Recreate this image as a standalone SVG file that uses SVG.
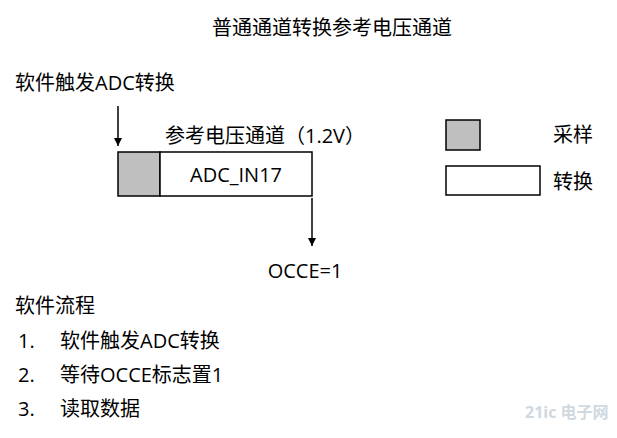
<svg xmlns="http://www.w3.org/2000/svg" width="617" height="438" viewBox="0 0 617 438">
<style>
text{font-family:"Open Sans","Noto Sans CJK SC",sans-serif;fill:#000;font-size:20px}
.b{stroke:#000;stroke-width:1.5}
</style>
<defs><marker id="a" markerWidth="10" markerHeight="10" refX="9" refY="5" orient="auto" markerUnits="userSpaceOnUse"><path d="M1,1 L9,5 L1,9 z" fill="#000"/></marker></defs>
<rect width="617" height="438" fill="#fff"/>
<text x="332" y="35" text-anchor="middle">普通通道转换参考电压通道</text>
<g id="trigger"><text x="15" y="90">软件触发ADC转换</text></g>
<g id="channel">
<text x="165" y="143">参考电压通道（1.2V）</text>
<rect class="b" x="118" y="152" width="42" height="44" fill="#bfbfbf"/>
<rect class="b" x="160" y="152" width="152" height="44" fill="#fff"/>
<text x="236" y="182" text-anchor="middle">ADC_IN17</text>
</g>
<g id="occe"><text x="305" y="278" text-anchor="middle">OCCE=1</text></g>
<g id="legend">
<rect class="b" x="446" y="120" width="34" height="30" fill="#bfbfbf"/>
<text x="553" y="142">采样</text>
<rect class="b" x="446" y="166" width="94" height="29" fill="#fff"/>
<text x="553" y="189">转换</text>
</g>
<g id="connectors" stroke="#000" stroke-width="1.5">
<line x1="118" y1="106" x2="118" y2="146" marker-end="url(#a)"/>
<line x1="312" y1="198" x2="312" y2="246" marker-end="url(#a)"/>
</g>
<g id="flow">
<text x="15" y="313">软件流程</text>
<text x="18" y="348">1.</text><text x="60" y="348">软件触发ADC转换</text>
<text x="18" y="382">2.</text><text x="60" y="382">等待OCCE标志置1</text>
<text x="18" y="416">3.</text><text x="60" y="416">读取数据</text>
</g>
<text x="525" y="418" style="font-size:16px;fill:#d0d8e0;font-weight:bold">21ic 电子网</text>
</svg>
